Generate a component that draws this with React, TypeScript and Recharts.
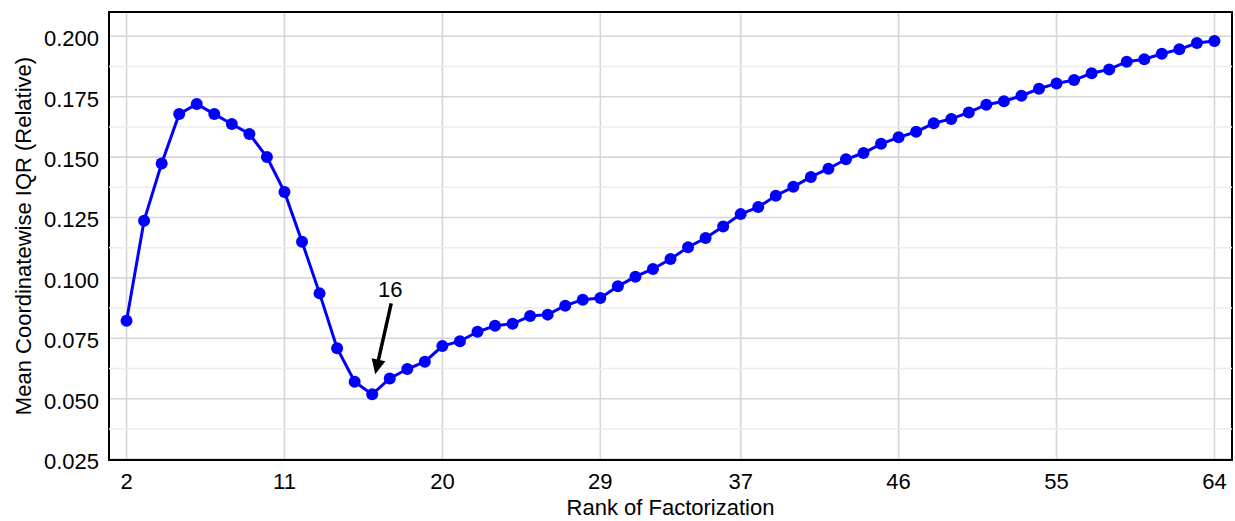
import React from 'react';
import {
  LineChart, Line, XAxis, YAxis, CartesianGrid, ReferenceLine, ReferenceArea, ReferenceDot, Label,
} from 'recharts';

const ranks: number[] = Array.from({ length: 63 }, (_, i) => i + 2);
const iqrValues: number[] = [
  0.0823, 0.1237, 0.1474, 0.1678, 0.1720, 0.1678, 0.1637, 0.1596, 0.1500, 0.1356,
  0.1150, 0.0936, 0.0709, 0.0570, 0.0518, 0.0584, 0.0623, 0.0653, 0.0718, 0.0738,
  0.0777, 0.0802, 0.0810, 0.0842, 0.0848, 0.0885, 0.0910, 0.0917, 0.0965, 0.1005,
  0.1037, 0.1078, 0.1127, 0.1165, 0.1213, 0.1264, 0.1293, 0.1340, 0.1377, 0.1418,
  0.1452, 0.1491, 0.1517, 0.1555, 0.1582, 0.1605, 0.1640, 0.1658, 0.1685, 0.1717,
  0.1731, 0.1754, 0.1783, 0.1805, 0.1819, 0.1847, 0.1863, 0.1895, 0.1905, 0.1928,
  0.1946, 0.1972, 0.1981,
];
const xTicks: number[] = [2, 11, 20, 29, 37, 46, 55, 64];
const yTicks: number[] = [0.025, 0.05, 0.075, 0.1, 0.125, 0.15, 0.175, 0.2];
const yMinorTicks: number[] = [0.0375, 0.0625, 0.0875, 0.1125, 0.1375, 0.1625, 0.1875];
const annotatedRank = 16;
const annotationText = '16';

const data = ranks.map((r, i) => ({ rank: r, iqr: iqrValues[i] }));

const X_DOMAIN: [number, number] = [1, 65];
const Y_DOMAIN: [number, number] = [0.02463, 0.21006];
const FONT = '"Liberation Sans", Arial, Helvetica, sans-serif';
const FS = 22;

const ArrowShape = (props: any) => {
  const { cx, cy } = props;
  if (cx == null || cy == null) return null;
  const tail = { x: cx + 19, y: cy - 91 };
  const tip = { x: cx + 3, y: cy - 20 };
  const dx = tip.x - tail.x;
  const dy = tip.y - tail.y;
  const len = Math.sqrt(dx * dx + dy * dy);
  const ux = dx / len;
  const uy = dy / len;
  const headLen = 15;
  const halfW = 7;
  const bx = tip.x - headLen * ux;
  const by = tip.y - headLen * uy;
  const nx = -uy;
  const ny = ux;
  const pts = `${tip.x},${tip.y} ${bx + halfW * nx},${by + halfW * ny} ${bx - halfW * nx},${by - halfW * ny}`;
  return (
    <g>
      <line x1={tail.x} y1={tail.y} x2={bx + 2 * ux} y2={by + 2 * uy} stroke="#000" strokeWidth={3.5} />
      <polygon points={pts} fill="#000" />
      <text x={tail.x - 1} y={cy - 97} textAnchor="middle" fontFamily={FONT} fontSize={FS} fill="#000">
        {annotationText}
      </text>
    </g>
  );
};

const YTick = (props: any) => {
  const { x, y, payload } = props;
  return (
    <text x={x} y={y + 2} dy="0.355em" textAnchor="end" fontFamily={FONT} fontSize={FS} fill="#000">
      {Number(payload.value).toFixed(3)}
    </text>
  );
};

export default function App() {
  const annotatedValue = iqrValues[ranks.indexOf(annotatedRank)];
  return (
    <div style={{ position: 'absolute', left: 0, top: 0, background: '#fff' }}>
      <LineChart
        width={1235}
        height={521}
        data={data}
        margin={{ top: 12, right: 3, bottom: 0, left: 0 }}
      >
        <CartesianGrid stroke="#d6d6d6" strokeWidth={1.6} />
        {yMinorTicks.map((v) => (
          <ReferenceLine key={v} y={v} stroke="#ececec" strokeWidth={1.5} />
        ))}
        <XAxis
          dataKey="rank"
          type="number"
          domain={X_DOMAIN}
          ticks={xTicks}
          allowDataOverflow
          axisLine={false}
          tickLine={false}
          tickSize={0}
          tickMargin={13}
          height={61}
          tick={{ fill: '#000', fontSize: FS, fontFamily: FONT }}
        >
          <Label
            content={(p: any) => {
              const vb = p.viewBox;
              return (
                <text
                  x={vb.x + vb.width / 2}
                  y={vb.y + 55}
                  textAnchor="middle"
                  fontFamily={FONT}
                  fontSize={FS}
                  fill="#000"
                >
                  Rank of Factorization
                </text>
              );
            }}
          />
        </XAxis>
        <YAxis
          type="number"
          domain={Y_DOMAIN}
          ticks={yTicks}
          allowDataOverflow
          axisLine={false}
          tickLine={false}
          tickSize={0}
          tickMargin={10}
          width={109}
          tick={<YTick />}
        >
          <Label
            content={(p: any) => {
              const vb = p.viewBox;
              const x = vb.x + 23;
              const y = vb.y + vb.height / 2;
              return (
                <text
                  x={x}
                  y={y}
                  transform={`rotate(-90 ${x} ${y})`}
                  textAnchor="middle"
                  dominantBaseline="central"
                  fontFamily={FONT}
                  fontSize={FS}
                  fill="#000"
                >
                  Mean Coordinatewise IQR (Relative)
                </text>
              );
            }}
          />
        </YAxis>
        <Line
          type="linear"
          dataKey="iqr"
          stroke="#0000ff"
          strokeWidth={3}
          dot={{ r: 6, fill: '#0000ff', stroke: 'none' }}
          activeDot={false}
          isAnimationActive={false}
        />
        <ReferenceDot x={annotatedRank} y={annotatedValue} shape={ArrowShape} />
        <ReferenceArea
          x1={X_DOMAIN[0]}
          x2={X_DOMAIN[1]}
          y1={Y_DOMAIN[0]}
          y2={Y_DOMAIN[1]}
          fill="none"
          stroke="#000"
          strokeWidth={2}
        />
      </LineChart>
    </div>
  );
}
